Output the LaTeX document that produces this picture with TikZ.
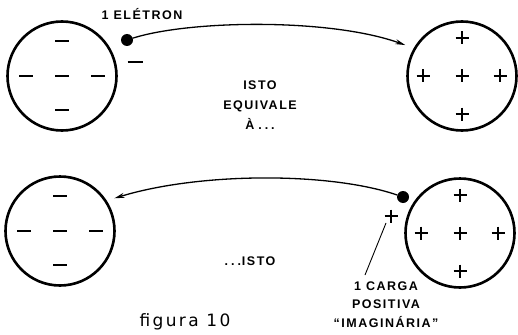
\documentclass[tikz,border=0pt]{standalone}
\usepackage{fontspec}
\setmainfont{Liberation Sans}
\newfontfamily\rotulo[LetterSpace=12]{Liberation Sans}
\newfontfamily\legenda[LetterSpace=14]{DejaVu Sans}
\usetikzlibrary{arrows.meta, calc}

\begin{document}
\begin{tikzpicture}[x=1pt, y=-1pt,
    esfera/.style={circle, draw, line width=2.6pt, minimum size=109pt, inner sep=0pt},
    ponto/.style={circle, fill=black, minimum size=12pt, inner sep=0pt},
    sinal/.style={line width=1.3pt},
    seta/.style={-{Stealth[length=10pt, width=5pt]}, line width=1.3pt, shorten >=#1},
    rot/.style={font=\rotulo\bfseries\fontsize{12.5}{#1}\selectfont, align=center, inner sep=0pt},
]
    \useasboundingbox (0,0) rectangle (518,334);

    \node[esfera] (tl) at (62, 76) {};
    \node[esfera] (tr) at (462, 76) {};
    \node[esfera] (bl) at (60, 231) {};
    \node[esfera] (br) at (460, 233) {};

    \node[ponto] (e1) at (127, 40) {};
    \node[ponto] (e2) at (403, 197) {};

    % === sinais ===
    \foreach \c in {tl, bl}
        \foreach \dx/\dy in {0/-35, -36/0, 0/0, 36/0, 0/34}
            \draw[sinal] ($(\c)+(\dx-7,\dy)$) -- ++(14,0);
    \foreach \c in {tr, br}
        \foreach \dx/\dy in {0/-38, -39/0, 0/0, 38/0, 0/38}
            \draw[sinal] ($(\c)+(\dx,\dy)$) ++(-6.5,0) -- ++(13,0) ++(-6.5,-6.5) -- ++(0,13);
    \draw[sinal] (127.5, 62) -- ++(15,0);
    \draw[sinal] (384.5, 216) -- ++(13,0) ++(-6.5,-6.5) -- ++(0,13);

    % === setas ===
    \draw[seta=9pt] (e1) .. controls (190, 20) and (330, 18) .. (tr.150);
    \draw[seta=8pt] (e2) .. controls (330, 172) and (200, 172) .. (bl.33);

    % === textos ===
    \node[rot=13] (eletron) at (142, 14.5) {1 ELÉTRON};
    \node[rot=20] (equiv) at (260, 105) {ISTO\\EQUIVALE\\À\hspace{4pt}.\hspace{3pt}.\hspace{3pt}.};
    \node[rot=13] (isto) at (250, 261.5) {.\hspace{3pt}.\hspace{3pt}.\hspace{1pt}ISTO};
    \node[rot=18.5] (lblcarga) at (386, 304.5) {1 CARGA\\POSITIVA\\“IMAGINÁRIA”};
    \coordinate (pm) at (386, 223);
    \coordinate (pf) at (365, 275);
    \draw[line width=0.9pt] (pm) -- (pf);

    \node[font=\legenda\fontsize{17}{20}\selectfont, inner sep=0pt] (fig) at (185, 321.5) {figura 10};
\end{tikzpicture}
\end{document}
